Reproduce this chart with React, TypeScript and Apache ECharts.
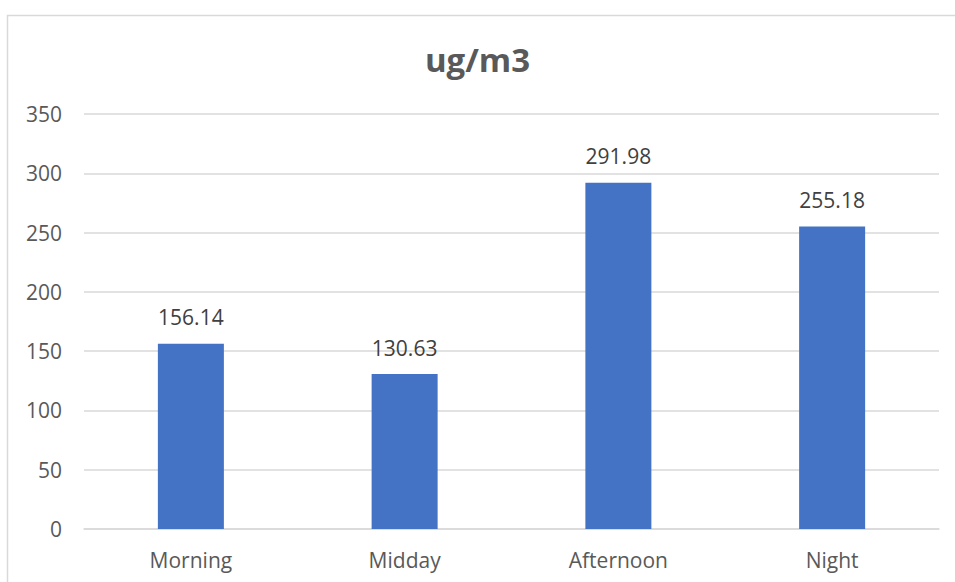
import React, { useEffect, useRef } from "react";
import * as echarts from "echarts";

const categories = ["Morning", "Midday", "Afternoon", "Night"];
const concentration = [156.14, 130.63, 291.98, 255.18];
const yTicks = { min: 0, max: 350, interval: 50 };

const FONT = "'Open Sans', sans-serif";

export default function App() {
  const ref = useRef<HTMLDivElement>(null);

  useEffect(() => {
    if (!ref.current) return;
    const chart = echarts.init(ref.current, undefined, { renderer: "svg" });
    chart.setOption({
      animation: false,
      backgroundColor: "#ffffff",
      textStyle: { fontFamily: FONT },
      title: {
        text: "ug/m3",
        left: "center",
        top: 38,
        textStyle: { fontFamily: FONT, fontSize: 33, fontWeight: "bold", color: "#595959" },
      },
      graphic: [
        {
          type: "rect",
          shape: { x: 7.5, y: 15.5, width: 1000, height: 700 },
          style: { fill: "none", stroke: "#d9d9d9", lineWidth: 1.5 },
          silent: true,
        },
      ],
      grid: { left: 84, right: 16, top: 114, bottom: 53 },
      xAxis: {
        type: "category",
        data: categories,
        axisLine: { show: true, lineStyle: { color: "#d9d9d9", width: 1.5 } },
        axisTick: { show: false },
        axisLabel: { color: "#595959", fontSize: 21, fontFamily: FONT, margin: 20 },
      },
      yAxis: {
        type: "value",
        min: yTicks.min,
        max: yTicks.max,
        interval: yTicks.interval,
        axisLine: { show: false },
        axisTick: { show: false },
        splitLine: { lineStyle: { color: "#d9d9d9", width: 1.5 } },
        axisLabel: { color: "#595959", fontSize: 21, fontFamily: FONT, margin: 22 },
      },
      series: [
        {
          type: "bar",
          data: concentration,
          barWidth: 66,
          itemStyle: { color: "#4472c4" },
          label: {
            show: true,
            position: "top",
            distance: 16,
            color: "#404040",
            fontSize: 21,
            fontFamily: FONT,
            formatter: (p: any) => p.value.toFixed(2),
          },
        },
      ],
    });
    return () => chart.dispose();
  }, []);

  return (
    <div
      ref={ref}
      style={{ position: "fixed", left: 0, top: 0, width: 955, height: 582 }}
    />
  );
}
